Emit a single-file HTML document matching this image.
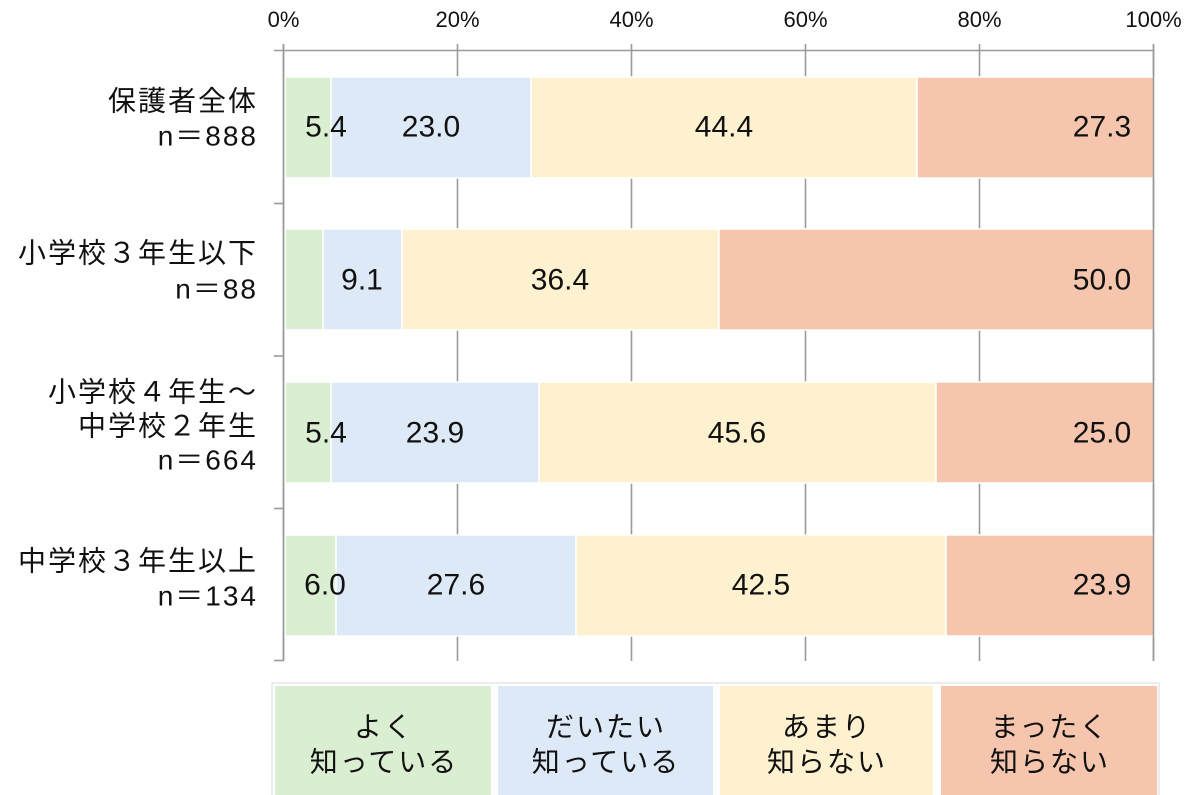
<!DOCTYPE html>
<html>
<head>
<meta charset="utf-8">
<style>
html,body{margin:0;padding:0;background:#fff;}
svg{display:block;}
text{font-family:"Liberation Sans","Noto Sans CJK JP",sans-serif;fill:#111;}
</style>
</head>
<body>
<svg width="1200" height="795" viewBox="0 0 1200 795" xmlns="http://www.w3.org/2000/svg">
  <!-- tick labels -->
  <g font-size="22" text-anchor="middle">
    <text x="283.5" y="27">0%</text>
    <text x="457.5" y="27">20%</text>
    <text x="631.5" y="27">40%</text>
    <text x="805.5" y="27">60%</text>
    <text x="979.5" y="27">80%</text>
    <text x="1153.5" y="27">100%</text>
  </g>
  <!-- gridlines -->
  <g stroke="#9a9a9a" stroke-width="1.6">
    <line x1="457.5" y1="44" x2="457.5" y2="661"/>
    <line x1="631.5" y1="44" x2="631.5" y2="661"/>
    <line x1="805.5" y1="44" x2="805.5" y2="661"/>
    <line x1="979.5" y1="44" x2="979.5" y2="661"/>
    <line x1="1153.5" y1="44" x2="1153.5" y2="661"/>
    <line x1="283.5" y1="44" x2="283.5" y2="661"/>
    <line x1="274" y1="50.5" x2="1154" y2="50.5"/>
    <line x1="274" y1="203.5" x2="284" y2="203.5"/>
    <line x1="274" y1="356" x2="284" y2="356"/>
    <line x1="274" y1="508.5" x2="284" y2="508.5"/>
    <line x1="274" y1="660.5" x2="284" y2="660.5"/>
  </g>
  <!-- bars -->
  <g stroke="#fff" stroke-width="1.5">
    <rect x="285" y="77" width="46" height="101" fill="#daefd2"/>
    <rect x="331" y="77" width="200" height="101" fill="#dde9f6"/>
    <rect x="531" y="77" width="386" height="101" fill="#fef1cf"/>
    <rect x="917" y="77" width="237" height="101" fill="#f5c6ad"/>

    <rect x="285" y="229" width="38" height="101" fill="#daefd2"/>
    <rect x="323" y="229" width="79" height="101" fill="#dde9f6"/>
    <rect x="402" y="229" width="317" height="101" fill="#fef1cf"/>
    <rect x="719" y="229" width="435" height="101" fill="#f5c6ad"/>

    <rect x="285" y="382" width="46" height="101" fill="#daefd2"/>
    <rect x="331" y="382" width="208" height="101" fill="#dde9f6"/>
    <rect x="539" y="382" width="397" height="101" fill="#fef1cf"/>
    <rect x="936" y="382" width="218" height="101" fill="#f5c6ad"/>

    <rect x="285" y="535" width="51" height="101" fill="#daefd2"/>
    <rect x="336" y="535" width="240" height="101" fill="#dde9f6"/>
    <rect x="576" y="535" width="370" height="101" fill="#fef1cf"/>
    <rect x="946" y="535" width="208" height="101" fill="#f5c6ad"/>
  </g>
  <line x1="283.5" y1="44" x2="283.5" y2="661" stroke="#9a9a9a" stroke-width="1.6"/>
  <line x1="1153.5" y1="44" x2="1153.5" y2="661" stroke="#9a9a9a" stroke-width="1.6"/>

  <!-- data labels -->
  <g font-size="30" text-anchor="middle" dominant-baseline="central">
    <text x="326" y="127">5.4</text>
    <text x="431" y="127">23.0</text>
    <text x="724" y="127">44.4</text>
    <text x="1102" y="127">27.3</text>

    <text x="362" y="280">9.1</text>
    <text x="560" y="280">36.4</text>
    <text x="1102" y="280">50.0</text>

    <text x="326" y="433">5.4</text>
    <text x="435" y="433">23.9</text>
    <text x="737" y="433">45.6</text>
    <text x="1102" y="433">25.0</text>

    <text x="325" y="585">6.0</text>
    <text x="456" y="585">27.6</text>
    <text x="761" y="585">42.5</text>
    <text x="1102" y="585">23.9</text>
  </g>

  <!-- category labels -->
  <g font-size="28" text-anchor="end" dominant-baseline="central" letter-spacing="2">
    <text x="258" y="101">保護者全体</text>
    <text x="258" y="136">n＝888</text>
    <text x="258" y="253">小学校３年生以下</text>
    <text x="258" y="289">n＝88</text>
    <text x="258" y="392">小学校４年生～</text>
    <text x="258" y="426">中学校２年生</text>
    <text x="258" y="460">n＝664</text>
    <text x="258" y="561">中学校３年生以上</text>
    <text x="258" y="596">n＝134</text>
  </g>

  <!-- legend -->
  <rect x="272" y="683" width="887" height="120" fill="#fff" stroke="#d9d9d9" stroke-width="1"/>
  <rect x="275" y="686" width="216" height="109" fill="#daefd2"/>
  <rect x="498" y="686" width="215" height="109" fill="#dde9f6"/>
  <rect x="720" y="686" width="213" height="109" fill="#fef1cf"/>
  <rect x="941" y="686" width="216" height="109" fill="#f5c6ad"/>
  <g font-size="28" text-anchor="middle" dominant-baseline="central" letter-spacing="2">
    <text x="384" y="727">よく</text>
    <text x="384" y="762">知っている</text>
    <text x="606" y="727">だいたい</text>
    <text x="606" y="762">知っている</text>
    <text x="827" y="727">あまり</text>
    <text x="827" y="762">知らない</text>
    <text x="1050" y="727">まったく</text>
    <text x="1050" y="762">知らない</text>
  </g>
</svg>
</body>
</html>
